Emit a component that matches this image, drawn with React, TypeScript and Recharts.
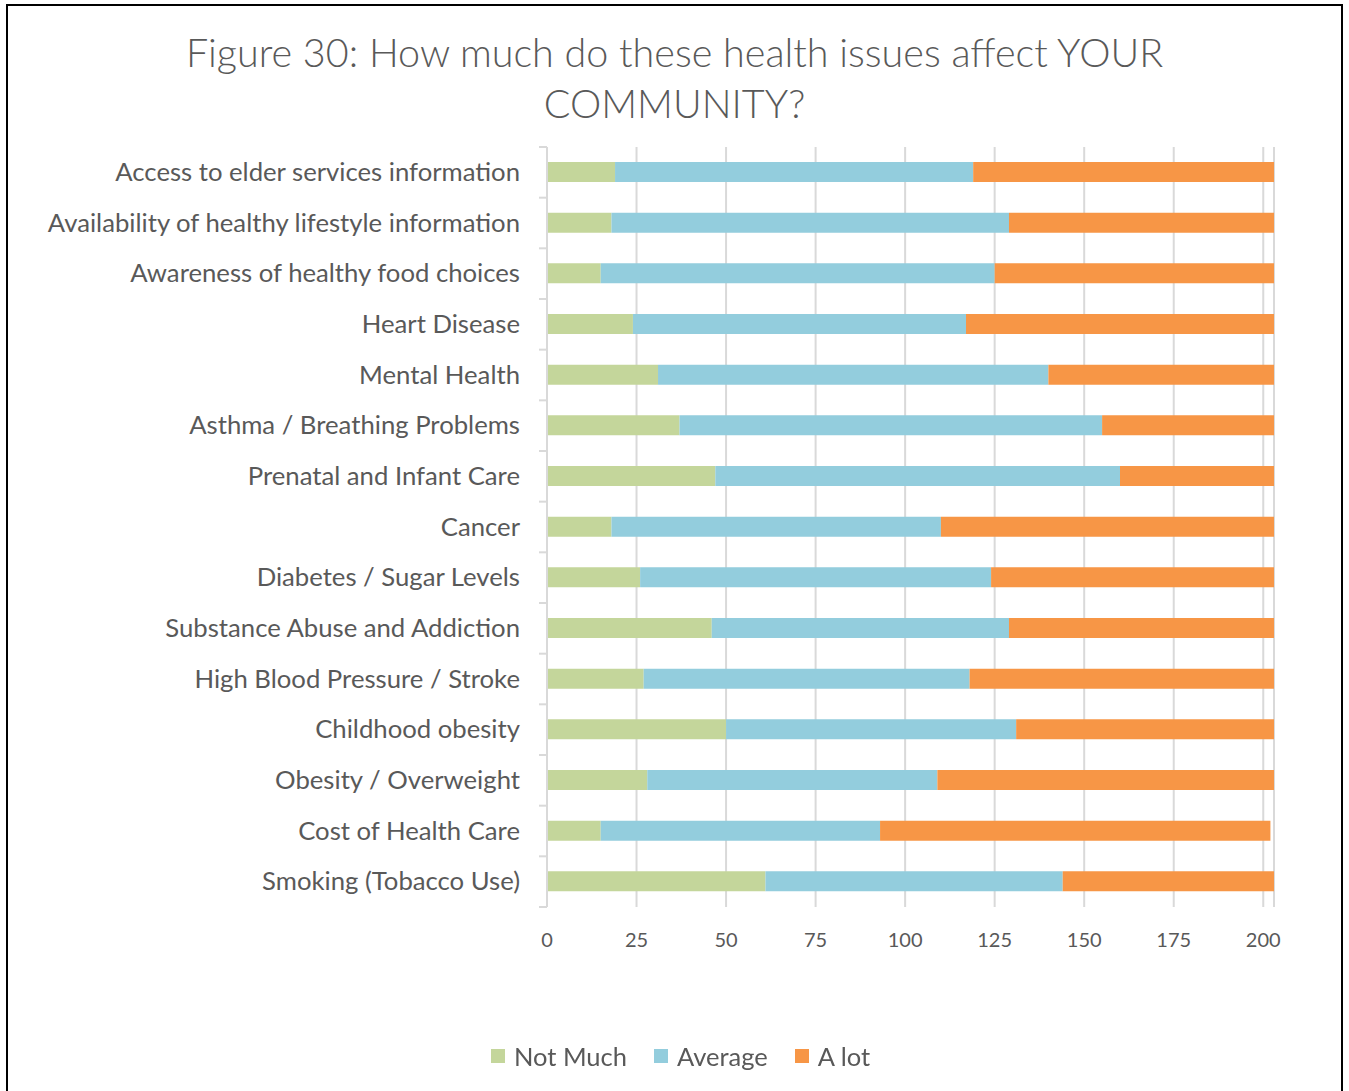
import React from 'react';
import { BarChart, Bar, XAxis, YAxis, CartesianGrid } from 'recharts';

const categories = [
  'Access to elder services information',
  'Availability of healthy lifestyle information',
  'Awareness of healthy food choices',
  'Heart Disease',
  'Mental Health',
  'Asthma / Breathing Problems',
  'Prenatal and Infant Care',
  'Cancer',
  'Diabetes / Sugar Levels',
  'Substance Abuse and Addiction',
  'High Blood Pressure / Stroke',
  'Childhood obesity',
  'Obesity / Overweight',
  'Cost of Health Care',
  'Smoking (Tobacco Use)',
];

const notMuch = [19, 18, 15, 24, 31, 37, 47, 18, 26, 46, 27, 50, 28, 15, 61];
const average = [100, 111, 110, 93, 109, 118, 113, 92, 98, 83, 91, 81, 81, 78, 83];
const aLot = [84, 74, 78, 86, 63, 48, 43, 93, 79, 74, 85, 72, 94, 109, 59];

const xTicks = [0, 25, 50, 75, 100, 125, 150, 175, 200];

const series = [
  { key: 'notMuch', label: 'Not Much', color: '#c4d69b' },
  { key: 'average', label: 'Average', color: '#93cddd' },
  { key: 'aLot', label: 'A lot', color: '#f79646' },
];

const data = categories.map((name, i) => ({
  name,
  notMuch: notMuch[i],
  average: average[i],
  aLot: aLot[i],
}));

const FONT = 'Lato, "Open Sans", sans-serif';
const TEXT = '#595959';
const GRID = '#d9d9d9';

const W = 1349;
const H = 1091;
const TOP = 147;
const BOTTOM = 907;
const BAND = (BOTTOM - TOP) / categories.length;

const CategoryTick = (props: any) => {
  const { x, y, payload, index } = props;
  return (
    <g>
      <text x={x - 27} y={y} dy={8.5} textAnchor="end" fontSize={25.7} fill={TEXT} fontFamily={FONT}>
        {payload.value}
      </text>
      <line x1={x - 8} x2={x} y1={y - BAND / 2} y2={y - BAND / 2} stroke={GRID} strokeWidth={2} />
      {index === categories.length - 1 && (
        <line x1={x - 8} x2={x} y1={y + BAND / 2} y2={y + BAND / 2} stroke={GRID} strokeWidth={2} />
      )}
    </g>
  );
};

export default function App() {
  return (
    <div style={{ position: 'fixed', left: 0, top: 0, width: W, height: H, background: '#fff', fontFamily: FONT }}>
      <div
        style={{
          position: 'absolute',
          left: 6,
          top: 4,
          width: 1337,
          height: H,
          borderTop: '2px solid #000',
          borderLeft: '2px solid #000',
          borderRight: '2px solid #000',
          boxSizing: 'border-box',
        }}
      />
      <div
        style={{
          position: 'absolute',
          left: 0,
          top: 26,
          width: W,
          textAlign: 'center',
          fontSize: 39.5,
          lineHeight: '51px',
          color: TEXT,
          fontWeight: 300,
        }}
      >
        Figure 30: How much do these health issues affect YOUR
        <br />
        COMMUNITY?
      </div>

      <div style={{ position: 'absolute', left: 0, top: 0 }}>
        <BarChart
          width={W}
          height={H}
          data={data}
          layout="vertical"
          margin={{ top: TOP, right: 75, left: 0, bottom: H - BOTTOM - 60 }}
        >
          <CartesianGrid horizontal={false} stroke={GRID} strokeWidth={2} />
          <XAxis
            type="number"
            domain={[0, 203]}
            ticks={xTicks}
            height={60}
            axisLine={false}
            tickLine={false}
            tickSize={0}
            tickMargin={26}
            tick={{ fontSize: 20, fill: TEXT, fontFamily: FONT }}
          />
          <YAxis
            type="category"
            dataKey="name"
            width={547}
            axisLine={{ stroke: GRID, strokeWidth: 2 }}
            tickLine={false}
            tickSize={0}
            tickMargin={0}
            interval={0}
            tick={<CategoryTick />}
          />
          {series.map((s) => (
            <Bar key={s.key} dataKey={s.key} stackId="a" fill={s.color} barSize={20} isAnimationActive={false} />
          ))}
        </BarChart>
      </div>

      <div
        style={{
          position: 'absolute',
          left: 6,
          top: 1040,
          width: W,
          display: 'flex',
          justifyContent: 'center',
          gap: 27,
          fontSize: 25.5,
          lineHeight: '32px',
          color: TEXT,
        }}
      >
        {series.map((s) => (
          <div key={s.key} style={{ display: 'flex', alignItems: 'center' }}>
            <span style={{ width: 14, height: 14, background: s.color, marginRight: 9, display: 'inline-block' }} />
            {s.label}
          </div>
        ))}
      </div>
    </div>
  );
}
